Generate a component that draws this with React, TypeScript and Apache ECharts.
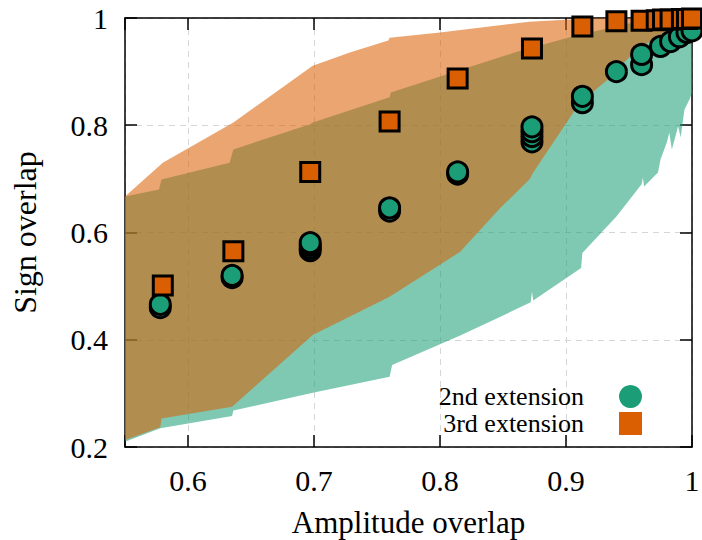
import { useEffect, useRef } from 'react';
import * as echarts from 'echarts';

const FONT = '"Liberation Serif", "Times New Roman", serif';

const seriesNames = ['2nd extension', '3rd extension'];
const seriesColors = ['#1b9e77', '#d95f02'];
const bandColors = ['rgba(27,158,119,0.56)', 'rgba(217,95,2,0.56)'];

// 2nd extension markers (amplitude overlap, sign overlap)
const ext2Points: [number, number][] = [
  [0.578, 0.46], [0.578, 0.466],
  [0.635, 0.516], [0.635, 0.52],
  [0.697, 0.566], [0.697, 0.571], [0.697, 0.576], [0.697, 0.581],
  [0.76, 0.64], [0.76, 0.646],
  [0.814, 0.709], [0.814, 0.713],
  [0.873, 0.769], [0.873, 0.779], [0.873, 0.788], [0.873, 0.797],
  [0.913, 0.842], [0.913, 0.854],
  [0.94, 0.9],
  [0.96, 0.913], [0.96, 0.932],
  [0.975, 0.947],
  [0.983, 0.956],
  [0.99, 0.965],
  [0.996, 0.973],
  [1.0, 0.976],
];

// 3rd extension markers
const ext3Points: [number, number][] = [
  [0.58, 0.501], [0.636, 0.565], [0.697, 0.713], [0.76, 0.807], [0.814, 0.887],
  [0.873, 0.943], [0.913, 0.984], [0.94, 0.994], [0.96, 0.995], [0.972, 0.996],
  [0.977, 0.997], [0.983, 0.997], [0.992, 0.998], [0.996, 0.998], [1.0, 0.999],
];

// 2nd extension spread band
const band2Upper: [number, number][] = [
  [0.55, 0.667], [0.577, 0.68], [0.579, 0.699], [0.633, 0.73], [0.636, 0.755],
  [0.697, 0.802], [0.699, 0.805], [0.76, 0.852], [0.761, 0.861], [0.824, 0.909],
  [0.861, 0.937], [0.903, 0.964], [0.935, 0.982], [0.964, 0.997], [1.0, 1.0],
];
const band2Lower: [number, number][] = [
  [0.55, 0.21], [0.578, 0.235], [0.635, 0.258], [0.636, 0.268], [0.699, 0.301],
  [0.76, 0.331], [0.762, 0.353], [0.816, 0.408], [0.848, 0.443], [0.872, 0.47],
  [0.873, 0.49], [0.874, 0.473], [0.912, 0.534], [0.913, 0.562], [0.94, 0.63],
  [0.96, 0.69], [0.961, 0.702], [0.962, 0.686], [0.973, 0.712], [0.975, 0.736],
  [0.98, 0.768], [0.982, 0.786], [0.984, 0.755], [0.989, 0.798], [0.991, 0.777],
  [0.994, 0.829], [0.998, 0.848], [1.0, 0.86],
];

// 3rd extension spread band
const band3Upper: [number, number][] = [
  [0.55, 0.667], [0.58, 0.73], [0.636, 0.805], [0.699, 0.911], [0.729, 0.936],
  [0.759, 0.958], [0.76, 0.963], [0.8, 0.973], [0.871, 0.993], [0.903, 0.997],
  [0.935, 1.0], [1.0, 1.0],
];
const band3Lower: [number, number][] = [
  [0.55, 0.213], [0.578, 0.237], [0.579, 0.253], [0.635, 0.275], [0.699, 0.409],
  [0.76, 0.48], [0.816, 0.564], [0.848, 0.646], [0.871, 0.699], [0.874, 0.712],
  [0.911, 0.842], [0.933, 0.885], [0.956, 0.941], [0.98, 0.975], [1.0, 0.99],
];

function bandSeries(upper: [number, number][], lower: [number, number][], fill: string) {
  const outline = [...upper, ...lower.slice().reverse()];
  return {
    type: 'custom',
    silent: true,
    data: [outline[0]],
    renderItem: (_params: any, api: any) => ({
      type: 'polygon',
      shape: { points: outline.map((p) => api.coord(p)) },
      style: { fill },
    }),
    z: 2,
  };
}

const fmt = (v: number) => {
  if (Math.abs(v * 10 - Math.round(v * 10)) > 1e-6) return '';
  return Math.abs(v - 1) < 1e-9 ? '1' : v.toFixed(1);
};

export default function App() {
  const ref = useRef<HTMLDivElement>(null);
  useEffect(() => {
    if (!ref.current) return;
    const chart = echarts.init(ref.current, undefined, { renderer: 'svg' });
    const tick = { show: true, inside: true, length: 12, lineStyle: { color: '#000', width: 1.5 } };
    const line = { show: true, lineStyle: { color: '#000', width: 1.5 } };
    const split = { show: true, lineStyle: { color: '#d6d6d6', width: 1, type: [6, 5] } };
    const labelStyle = { fontFamily: FONT, fontSize: 30, color: '#000' };
    const legendBase = {
      orient: 'vertical',
      right: 60,
      itemWidth: 23,
      itemHeight: 23,
      align: 'right',
      padding: 0,
      selectedMode: false,
      textStyle: { fontFamily: FONT, fontSize: 26, lineHeight: 24, color: '#000', padding: [0, 30, 0, 0] },
      itemStyle: { borderWidth: 0 },
    };
    chart.setOption({
      animation: false,
      backgroundColor: '#fff',
      grid: { left: 125, right: 10, top: 18, bottom: 93, containLabel: false, outerBoundsMode: 'none' },
      xAxis: [
        {
          type: 'value', min: 0.55, max: 1.0, position: 'bottom',
          axisLine: line, axisTick: tick, splitLine: split,
          axisLabel: { ...labelStyle, margin: 18, formatter: fmt },
          name: 'Amplitude overlap', nameLocation: 'middle', nameGap: 60,
          nameTextStyle: { fontFamily: FONT, fontSize: 31, color: '#000' },
        },
        {
          type: 'value', min: 0.55, max: 1.0, position: 'top',
          axisLine: line, axisTick: tick, splitLine: { show: false }, axisLabel: { show: false },
        },
      ],
      yAxis: [
        {
          type: 'value', min: 0.2, max: 1.0, interval: 0.2, position: 'left',
          axisLine: line, axisTick: tick, splitLine: split,
          axisLabel: { ...labelStyle, margin: 17, formatter: fmt },
          name: 'Sign overlap', nameLocation: 'middle', nameGap: 84,
          nameTextStyle: { fontFamily: FONT, fontSize: 32, color: '#000' },
        },
        {
          type: 'value', min: 0.2, max: 1.0, interval: 0.2, position: 'right',
          axisLine: line, axisTick: tick, splitLine: { show: false }, axisLabel: { show: false },
        },
      ],
      legend: [
        { ...legendBase, top: 383.5, data: [{ name: seriesNames[0], icon: 'circle' }] },
        { ...legendBase, top: 410.5, data: [{ name: seriesNames[1], icon: 'rect' }] },
      ],
      series: [
        bandSeries(band2Upper, band2Lower, bandColors[0]),
        bandSeries(band3Upper, band3Lower, bandColors[1]),
        {
          type: 'scatter', name: seriesNames[0], data: ext2Points, symbol: 'circle', symbolSize: 20,
          itemStyle: { color: seriesColors[0], borderColor: '#000', borderWidth: 3, opacity: 1 },
          clip: false, z: 3,
        },
        {
          type: 'scatter', name: seriesNames[1], data: ext3Points, symbol: 'rect', symbolSize: 19,
          itemStyle: { color: seriesColors[1], borderColor: '#000', borderWidth: 3, opacity: 1 },
          clip: false, z: 4,
        },
      ],
    });
    return () => chart.dispose();
  }, []);
  return <div ref={ref} style={{ position: 'absolute', left: 0, top: 0, width: 702, height: 540 }} />;
}
